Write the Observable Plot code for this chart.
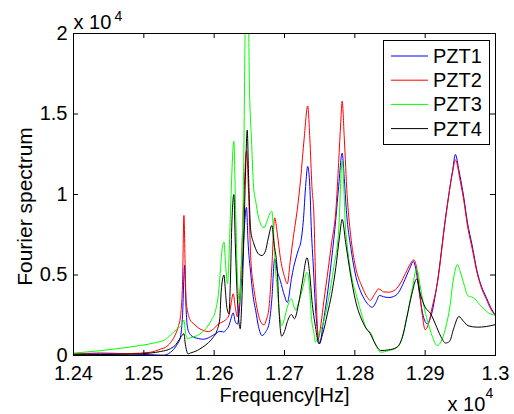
<!DOCTYPE html>
<html><head><meta charset="utf-8">
<script src="https://cdn.jsdelivr.net/npm/d3@7"></script>
<script src="https://cdn.jsdelivr.net/npm/@observablehq/plot@0.6"></script>
<style>body{margin:0;background:#fff;} svg{display:block}</style>
</head><body><div id="chart"></div>
<script>
const seriesNames = ["PZT1", "PZT2", "PZT3", "PZT4"];
const seriesColors = ["#0000ff", "#ff0000", "#00ff00", "#000000"];

const pzt1Freq = [12400,12438,12481,12509,12528,12538,12546,12552,12555,12558,12560,12562,12566,12571,12578,12585,12592,12598,12602,12608,12612,12614,12616,12621,12624,12627,12630,12633,12635,12637,12640,12643,12646,12648,12652,12656,12659,12663,12668,12673,12678,12682,12686,12690,12694,12700,12704,12710,12713,12716,12720,12723,12727,12730,12733,12736,12738,12741,12744,12747,12750,12755,12761,12767,12773,12777,12782,12785,12788,12795,12801,12808,12815,12825,12830,12835,12841,12848,12855,12862,12868,12874,12879,12883,12887,12892,12896,12900,12903,12908,12917,12929,12939,12943,12948,12955,12960,12967,12974,12980,12987,12993,13000];
const pzt1Amp = [80,150,100,50,20,200,600,1140,2500,5600,3000,1760,1300,1140,1050,1010,1100,1250,1350,1500,1480,1450,1550,1860,2300,2650,2100,1950,2400,3500,5500,8000,9200,7200,5090,3500,2800,1800,1240,1450,1970,3500,6000,5200,4660,3700,3300,4800,5480,6000,6600,7000,8500,10500,11740,10500,8000,5500,3000,1500,730,2000,3800,6000,8500,10500,12570,11000,9000,6500,5000,4000,3400,3000,3300,3730,3650,3600,3660,3900,4400,5000,5500,5850,5300,3800,2700,2100,1970,2400,4450,8590,11490,12480,11500,9800,8300,6800,5200,4300,3600,3000,2480];

const pzt2Freq = [12400,12453,12481,12509,12524,12531,12538,12543,12549,12552,12555,12557,12559,12560,12562,12566,12571,12578,12585,12592,12599,12606,12611,12616,12621,12624,12627,12630,12633,12636,12639,12642,12646,12649,12652,12656,12659,12663,12668,12671,12674,12678,12682,12686,12690,12694,12700,12704,12708,12713,12718,12723,12728,12733,12736,12739,12742,12744,12746,12748,12752,12756,12761,12767,12773,12777,12780,12782,12785,12789,12794,12801,12810,12818,12822,12828,12834,12841,12848,12858,12865,12872,12879,12884,12888,12892,12896,12900,12905,12910,12917,12929,12939,12943,12950,12955,12960,12967,12974,12980,12987,12993,13000];
const pzt2Amp = [100,100,120,200,400,515,800,1140,1800,2400,4500,8700,5000,3500,2800,2200,1970,1700,1550,1480,1650,1950,2070,2200,2500,3200,3830,3000,2400,3500,6000,9500,12700,10000,6100,4300,3420,2500,1970,1900,2200,3000,5500,8550,7500,6100,4900,4450,5800,7500,9000,11000,13500,15500,13500,10500,8500,5000,2500,1050,2000,3400,5000,7000,9000,12000,14500,15800,13500,10000,7500,5500,4300,3600,3420,3800,4140,3950,3930,4100,4500,5100,5700,5940,5400,4000,2500,1600,2000,3000,4400,8500,11400,12150,10800,9600,8100,6600,5100,4200,3500,2900,2480];

const pzt3Freq = [12400,12438,12467,12495,12517,12531,12541,12549,12554,12557,12559,12562,12566,12576,12583,12590,12596,12602,12606,12609,12611,12614,12616,12619,12621,12624,12628,12630,12633,12636,12639,12642,12644,12647,12649,12650,12653,12656,12659,12663,12668,12671,12674,12678,12682,12684,12687,12690,12693,12696,12700,12704,12710,12713,12716,12720,12726,12732,12736,12738,12742,12744,12748,12756,12763,12770,12777,12782,12787,12789,12795,12803,12810,12818,12822,12827,12832,12837,12848,12860,12868,12874,12881,12888,12893,12899,12905,12910,12917,12923,12929,12935,12940,12946,12950,12956,12961,12968,12979,12990,13000];
const pzt3Amp = [150,300,450,620,800,1000,1400,1700,1900,2200,1500,1040,1100,1240,1450,1760,2200,2800,3800,5380,6500,7050,5800,4450,6000,10000,13300,10000,5000,3300,6000,12000,20000,26000,21000,17000,13500,10500,9600,8600,8010,7930,8200,8700,8960,8000,5500,4040,2500,1860,2300,3000,3520,3100,2800,3300,4200,5170,4000,2500,1350,830,1200,2170,3600,5480,7760,12100,7760,6900,5000,3620,2500,1550,1450,930,450,205,300,515,1200,2400,4000,5380,4300,2900,1900,1200,620,900,1700,3000,4700,5650,5200,4300,3700,3600,3100,2650,2480];

const pzt4Freq = [12400,12438,12481,12509,12524,12538,12546,12552,12557,12559,12563,12566,12576,12583,12590,12598,12604,12608,12610,12614,12616,12618,12621,12623,12625,12628,12630,12633,12636,12637,12639,12642,12645,12647,12649,12652,12656,12659,12663,12668,12673,12677,12682,12685,12690,12692,12694,12696,12700,12704,12710,12714,12720,12725,12732,12736,12739,12744,12749,12754,12761,12767,12773,12778,12782,12787,12794,12801,12810,12815,12822,12829,12837,12848,12860,12868,12874,12881,12888,12893,12900,12908,12915,12922,12929,12935,12940,12948,12955,12961,12974,12987,13000];
const pzt4Amp = [50,60,80,150,250,430,700,1100,1350,700,100,150,310,500,725,1100,1550,2300,4000,5000,4000,3000,2590,4500,8000,10000,7000,3500,1800,1660,3000,7000,12000,14000,11000,7760,7000,6630,6300,6210,6500,7300,8075,7000,5070,3000,1660,1200,1500,2100,2550,2280,3200,4450,6070,5000,3420,1800,725,1300,2590,3800,5480,7300,8450,7000,5000,3400,2200,1760,1350,725,310,350,515,1200,2380,3800,4760,3830,3000,2590,1900,1200,770,900,1600,2420,2100,1850,1760,1800,1920];

const xTicks = [12400, 12500, 12600, 12700, 12800, 12900, 13000];
const yTicks = [0, 5000, 10000, 15000, 20000];
const xLabel = "Frequency[Hz]";
const yLabel = "Fourier spectrum";
const scaleBase = "x 10";
const scaleExp = "4";

const freqs = [pzt1Freq, pzt2Freq, pzt3Freq, pzt4Freq];
const amps = [pzt1Amp, pzt2Amp, pzt3Amp, pzt4Amp];
const rows = [];
seriesNames.forEach((name, i) => {
  freqs[i].forEach((f, j) => rows.push({name, f, v: amps[i][j]}));
});

const W = 514, H = 414, mL = 73, mR = 19, mT = 33, mB = 59;
const fw = W - mL - mR, fh = H - mT - mB;
const font = "'Liberation Sans', Arial, Helvetica, sans-serif";
const fmtX = d => String(+(d / 1e4).toFixed(4));
const fmtY = d => String(+(d / 1e4).toFixed(4));

const svg = Plot.plot({
  width: W, height: H,
  marginLeft: mL, marginRight: mR, marginTop: mT, marginBottom: mB,
  style: {fontFamily: font, fontSize: "20px", background: "white", color: "black"},
  x: {domain: [12400, 13000]},
  y: {domain: [0, 20000]},
  color: {domain: seriesNames, range: seriesColors},
  marks: [
    Plot.line(rows, {x: "f", y: "v", z: "name", stroke: "name", strokeWidth: 1, curve: "monotone-x", clip: true}),
    Plot.frame({stroke: "black", strokeWidth: 1}),
    Plot.tickX(xTicks, {x: d => d, insetTop: fh - 5, stroke: "black"}),
    Plot.tickX(xTicks, {x: d => d, insetBottom: fh - 5, stroke: "black"}),
    Plot.tickY(yTicks, {y: d => d, insetRight: fw - 5, stroke: "black"}),
    Plot.tickY(yTicks, {y: d => d, insetLeft: fw - 5, stroke: "black"}),
    Plot.axisX(xTicks, {tickSize: 0, tickPadding: 10, tickFormat: fmtX, label: null, fontSize: 20}),
    Plot.axisY(yTicks, {tickSize: 0, tickPadding: 6, tickFormat: fmtY, label: null, fontSize: 20}),
    Plot.text([xLabel], {frameAnchor: "bottom", text: d => d, dy: 32, lineAnchor: "top", fontSize: 20}),
    Plot.text([yLabel], {frameAnchor: "left", text: d => d, rotate: -90, dx: -42, dy: 12, textAnchor: "middle", lineAnchor: "bottom", fontSize: 21}),
    Plot.text([scaleBase], {frameAnchor: "top-left", text: d => d, textAnchor: "start", lineAnchor: "bottom", dy: -5, fontSize: 20}),
    Plot.text([scaleExp], {frameAnchor: "top-left", text: d => d, textAnchor: "start", lineAnchor: "bottom", dx: 41, dy: -13, fontSize: 14}),
    Plot.text([scaleBase], {frameAnchor: "bottom-right", text: d => d, textAnchor: "start", lineAnchor: "bottom", dx: -48, dy: 55, fontSize: 20}),
    Plot.text([scaleExp], {frameAnchor: "bottom-right", text: d => d, textAnchor: "start", lineAnchor: "bottom", dx: -10, dy: 42, fontSize: 14})
  ]
});

// legend
const g = d3.select(svg).append("g").attr("font-family", font).attr("font-size", 20).attr("text-anchor", "start");
g.append("rect").attr("x", 383.5).attr("y", 40.5).attr("width", 106).attr("height", 104)
  .attr("fill", "white").attr("stroke", "black").attr("stroke-width", 1);
seriesNames.forEach((name, i) => {
  const cy = 56 + 24.2 * i;
  g.append("line").attr("x1", 391).attr("x2", 428).attr("y1", cy).attr("y2", cy)
    .attr("stroke", seriesColors[i]).attr("stroke-width", 1);
  g.append("text").attr("x", 433).attr("y", cy).attr("dy", "0.35em").attr("text-anchor", "start")
    .attr("fill", "black").text(name);
});

document.getElementById("chart").appendChild(svg);
</script>
</body></html>
